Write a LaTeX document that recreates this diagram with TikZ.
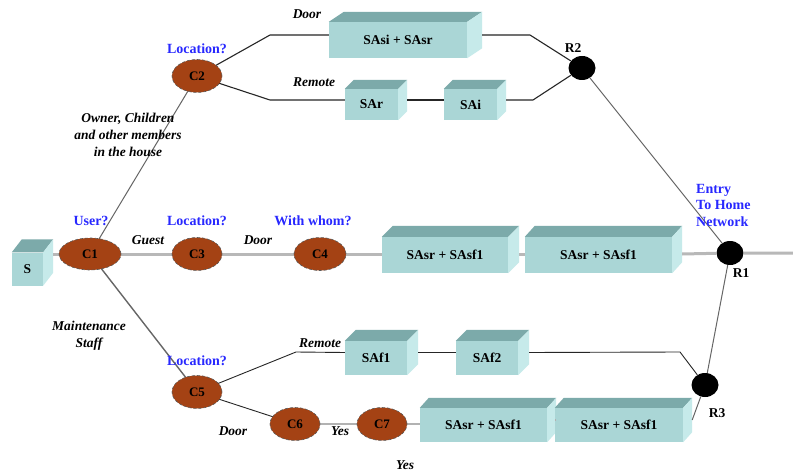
\documentclass[tikz,border=0pt]{standalone}
\usepackage{fontspec}
\setmainfont{Liberation Serif}
\usetikzlibrary{calc,shapes.geometric}
\definecolor{frontc}{RGB}{170,214,214}
\definecolor{topc}{RGB}{124,170,170}
\definecolor{sidec}{RGB}{198,234,234}
\definecolor{ovalc}{RGB}{164,66,20}
\definecolor{bluec}{RGB}{40,40,255}
\tikzset{
  cond/.style={ellipse, fill=ovalc, draw=black!65, densely dashed, line width=0.6pt,
    minimum width=50, minimum height=33, inner sep=0pt, font=\fontsize{13}{13}\selectfont\bfseries},
  router/.style={ellipse, fill=black, minimum width=27, minimum height=24, inner sep=0pt},
  cubebox/.style={rectangle, fill=frontc, inner sep=0pt, font=\fontsize{13.5}{13.5}\selectfont\bfseries},
  qlab/.style={text=bluec, inner sep=0pt, font=\fontsize{14}{14}\selectfont\bfseries},
  elab/.style={inner sep=0pt, font=\fontsize{13.5}{17}\selectfont\bfseries\itshape, align=center},
  rlab/.style={inner sep=0pt, font=\fontsize{13.5}{13.5}\selectfont\bfseries},
  darkwire/.style={draw=black!85, line width=1.1pt},
  graywire/.style={draw=black!60, line width=1pt},
  mainwire/.style={draw=black!28, line width=3pt},
  lightwire/.style={draw=black!30, line width=2pt},
}
\newcommand\sabox[8]{%
  \node[cubebox, minimum width=#4, minimum height=#5] (#1) at (#2,#3) {#8};
  \fill[topc] (#1.north west) -- ++(#6,#7) -- ($(#1.north east)+(#6,#7)$) -- (#1.north east) -- cycle;
  \fill[sidec] (#1.north east) -- ++(#6,#7) -- ($(#1.south east)+(#6,#7)$) -- (#1.south east) -- cycle;
  \coordinate (#1-w) at ($(#1.west)+(0,#7/2)$);
  \coordinate (#1-e) at ($(#1.east)+(#6,#7/2)$);
}
\begin{document}
\begin{tikzpicture}[x=1pt,y=-1pt]
\useasboundingbox[fill=white] (0,0) rectangle (793,476);

% routers
\node[router] (R2) at (582,68) {};
\node[router] (R1) at (730,253) {};
\node[router] (R3) at (705,385) {};
\coordinate (Rout) at (793,253);

% boxes
\sabox{B1}{398}{40}{138}{36}{15}{-10}{SAsi + SAsr}
\sabox{SAr}{371.5}{104.5}{53}{31}{9}{-9}{SAr}
\sabox{SAi}{470.5}{104.5}{53}{31}{9}{-9}{SAi}
\sabox{S}{27.5}{269}{31}{33}{10}{-13}{S}
\sabox{M1}{445}{255}{126}{36}{11}{-11}{SAsr + SAsf1}
\sabox{M2}{598.5}{255}{147}{36}{10}{-11}{SAsr + SAsf1}
\sabox{F1}{376}{358}{62}{34}{11}{-11}{SAf1}
\sabox{F2}{487}{358}{62}{34}{11}{-11}{SAf2}
\sabox{L1}{483.5}{425}{127}{34}{9}{-10}{SAsr + SAsf1}
\sabox{L2}{619}{425}{128}{34}{9}{-10}{SAsr + SAsf1}

% bends
\coordinate (k1) at (270,35);
\coordinate (k2) at (270,100);
\coordinate (k3) at (530,35);
\coordinate (k4) at (533,100);
\coordinate (k5) at (296,352);
\coordinate (k6) at (680,352);

\coordinate (C1p) at (90,254);
\coordinate (C2p) at (197,76);
\coordinate (C5p) at (197,392);
\coordinate (C6p) at (295,424);
\draw[graywire] (C1p) -- (C2p);
\draw[graywire, line width=1.4pt] (C1p) -- (C5p);
\draw[mainwire] (S-e |- C1p) -- (C1p) -- (M1.west |- C1p);
\draw[mainwire] (M1-e |- C1p) -- (M2.west |- C1p);
\draw[mainwire] (M2-e |- C1p) -- (R1) -- (Rout);
\draw[darkwire] (C2p) -- (k1) -- (B1-w);
\draw[darkwire] (C2p) -- (k2) -- (SAr-w);
\draw[darkwire] (SAr-e) -- (SAi-w);
\draw[darkwire] (B1-e) -- (k3) -- (R2);
\draw[darkwire] (SAi-e) -- (k4) -- (R2);
\draw[graywire] (R2) -- (R1);
\draw[graywire] (R3) -- (R1);
\draw[darkwire, line width=0.9pt] (C5p) -- (k5) -- (F1-w);
\draw[darkwire, line width=0.9pt] (F1-e) -- (F2-w);
\draw[darkwire, line width=0.9pt] (F2-e) -- (k6) -- (R3);
\draw[darkwire, line width=0.9pt] (C5p) -- (C6p);
\draw[lightwire] (C6p) -- (L1.west |- C6p);
\draw[lightwire] (L1-e) -- (L2-w);
\draw[graywire] (L2-e) -- (R3);

\node[cond, minimum width=62, minimum height=32] (C1) at (C1p) {C1};
\node[cond] (C2) at (C2p) {C2};
\node[cond] (C3) at (197,254) {C3};
\node[cond, minimum width=52] (C4) at (320,254) {C4};
\node[cond] (C5) at (C5p) {C5};
\node[cond] (C6) at (C6p) {C6};
\node[cond] (C7) at (382,424) {C7};

% labels
\node[qlab] (q2) at (197,49) {Location?};
\node[qlab] (q1) at (91,221) {User?};
\node[qlab] (q3) at (197,221) {Location?};
\node[qlab] (q4) at (313,221) {With whom?};
\node[qlab] (q5) at (197,361) {Location?};
\node[qlab, anchor=west, align=left, font=\fontsize{14}{16.5}\selectfont\bfseries] (entry) at (696,205) {Entry\\To Home\\Network};

\node[elab] (l1) at (307,14) {Door};
\node[elab] (l2) at (314,82) {Remote};
\node[elab] (l3) at (128,135) {Owner, Children\\and other members\\in the house};
\node[elab] (l4) at (148,240) {Guest};
\node[elab] (l5) at (258,240) {Door};
\node[elab] (l6) at (89,336) {Maintenance\\Staff};
\node[elab] (l7) at (320,343) {Remote};
\node[elab] (l8) at (233,431) {Door};
\node[elab] (l9) at (340,431) {Yes};
\node[elab] (l10) at (405,465) {Yes};

\node[rlab] (r2l) at (573,48) {R2};
\node[rlab] (r1l) at (741,273) {R1};
\node[rlab] (r3l) at (717,413) {R3};
\end{tikzpicture}
\end{document}
